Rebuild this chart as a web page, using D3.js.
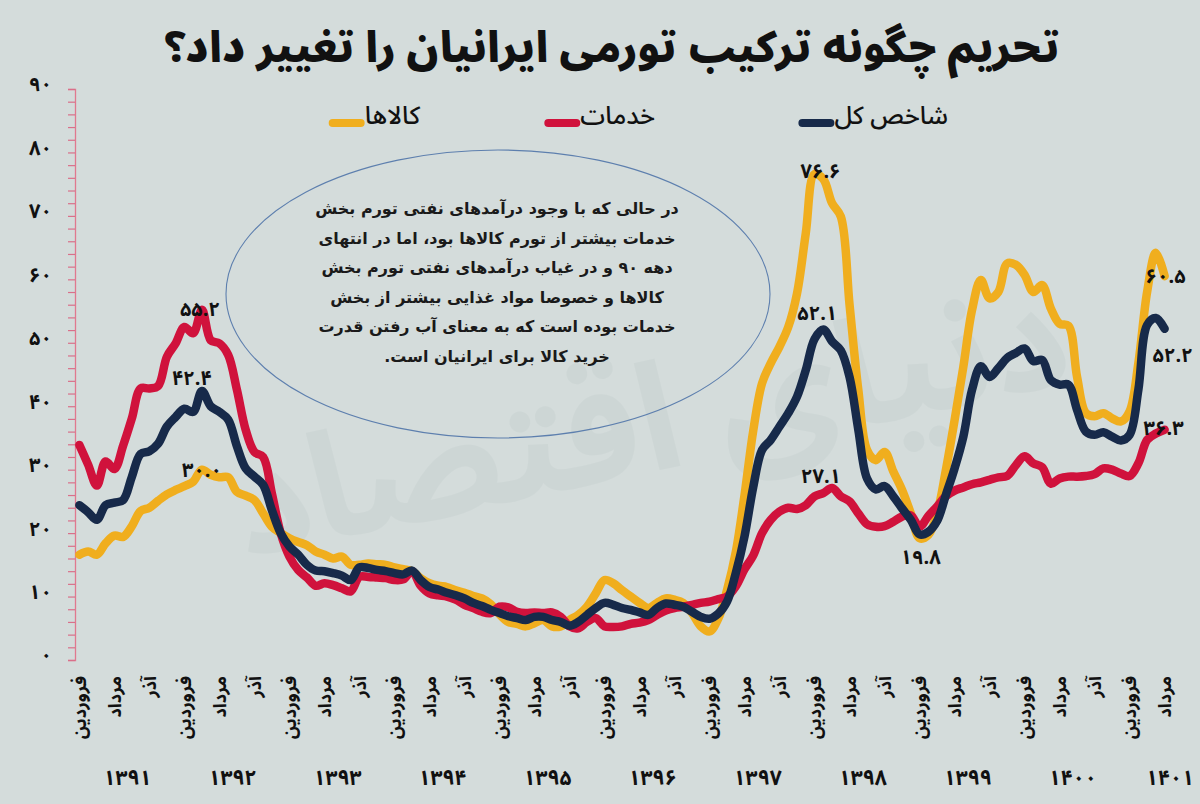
<!DOCTYPE html>
<html lang="fa">
<head>
<meta charset="utf-8">
<script src="https://cdn.jsdelivr.net/npm/d3@7"></script>
<style>
  html, body { margin: 0; padding: 0; background: #d4dcdb; }
  svg { display: block; }
  text { font-family: "Noto Sans Arabic", "Vazirmatn", "DejaVu Sans", sans-serif; }
  text.note { font-family: "DejaVu Sans", sans-serif; }
</style>
</head>
<body>
<svg id="chart" width="1200" height="804"></svg>
<script>
// ---------------- DATA ----------------
const title = "تحریم چگونه ترکیب تورمی ایرانیان را تغییر داد؟";
const seriesNames = ["کالاها", "خدمات", "شاخص کل"];
const years = [1391, 1392, 1393, 1394, 1395, 1396, 1397, 1398, 1399, 1400, 1401];
const monthLabels = ["فروردین", "مرداد", "آذر"];   // shown every 4 months
const yTicks = [0, 10, 20, 30, 40, 50, 60, 70, 80, 90];

// monthly point-to-point inflation, Farvardin 1391 .. Mordad 1401 (125 months)
const goods = [
  16.6,17.1,16.6,18.4,19.6,19.4,21.1,23.5,24.0,25.1,26.1,26.8,
  27.4,28.1,30.0,29.2,28.8,28.8,26.5,25.9,25.2,23.1,21.0,20.0,
  19.2,18.6,18.1,17.1,16.6,16.0,16.3,15.0,15.0,15.2,15.1,15.0,
  14.6,14.3,14.0,12.9,12.1,11.7,11.5,11.0,10.6,10.1,9.7,8.8,
  7.2,6.0,5.7,5.3,5.8,6.3,5.3,5.3,6.3,7.1,8.4,10.5,
  12.6,12.1,11.0,10.0,9.0,8.2,9.0,9.7,9.5,9.0,7.4,5.3,
  4.5,6.5,11.0,17.0,26.0,36.2,43.6,46.8,49.4,52.5,57.8,67.3,
  76.6,75.8,72.0,69.9,56.0,42.6,33.1,31.5,32.8,29.7,26.8,23.1,
  19.2,19.7,23.1,29.9,37.8,46.2,55.2,59.9,57.0,58.0,62.5,62.3,
  60.7,58.0,59.1,55.4,53.0,52.7,44.6,38.9,38.4,38.9,38.1,37.6,
  39.2,46.8,58.0,64.2,60.5
];
const services = [
  33.9,30.8,27.5,31.3,30.1,33.8,38.1,42.8,42.8,43.2,47.8,49.9,
  52.5,51.5,55.2,50.4,49.9,48.1,42.6,36.3,32.8,32.0,26.2,20.0,
  16.3,14.2,13.0,11.7,12.1,11.8,11.3,10.8,13.1,13.1,13.0,12.9,
  12.6,12.7,14.0,11.7,10.5,10.2,10.0,9.5,8.7,8.2,7.6,7.4,
  8.4,8.3,7.6,7.4,7.5,7.4,7.5,6.8,5.3,5.0,6.0,6.6,
  5.3,5.2,5.3,5.7,5.9,6.3,7.1,7.8,8.2,8.4,8.7,9.0,
  9.2,9.6,10.0,11.6,14.3,16.5,20.0,22.1,23.4,24.0,23.8,24.4,
  25.8,26.3,27.1,25.8,25.0,23.1,21.4,21.0,21.1,21.8,22.6,22.8,
  21.0,22.7,24.2,25.8,26.7,27.2,27.7,28.0,28.4,28.8,29.0,30.7,
  32.1,31.0,30.4,27.8,28.6,28.9,28.9,29.0,29.3,30.2,30.0,29.4,
  29.0,31.0,34.7,35.7,36.3
];
const total = [
  24.4,23.3,22.1,24.4,24.8,25.2,28.9,32.5,32.9,34.1,36.8,38.3,
  39.6,39.1,42.4,40.0,39.1,37.9,33.7,30.2,28.9,27.6,23.6,20.0,
  17.9,16.6,15.0,14.1,14.0,13.7,13.3,12.6,14.6,14.5,14.2,14.0,
  13.7,13.5,14.1,12.6,11.5,11.1,10.6,10.2,9.7,9.0,8.5,7.9,
  7.4,6.9,6.6,6.3,6.8,6.8,6.3,6.0,5.4,6.0,7.1,8.2,
  9.0,8.7,8.2,7.9,7.5,7.1,8.2,8.9,8.7,8.4,7.6,6.8,
  6.5,7.3,9.2,13.7,19.5,27.3,33.1,34.7,36.8,38.9,41.5,45.7,
  50.6,52.1,50.2,48.8,44.6,36.3,28.6,26.9,27.4,25.8,23.9,22.1,
  19.8,20.2,21.9,26.0,30.2,35.2,42.6,46.3,44.6,46.0,47.6,48.4,
  49.1,47.1,47.3,44.1,43.4,43.4,39.4,36.0,35.5,35.9,35.2,34.6,
  35.5,42.6,52.8,53.9,52.2
];
// which points carry a value label: [series index, month index]
const labelledPoints = [[1,14],[2,14],[0,14],[0,84],[2,85],[1,86],[2,96],[0,124],[2,124],[1,124]];

const noteLines = [
  "در حالی که با وجود درآمدهای نفتی تورم بخش",
  "خدمات بیشتر از تورم کالاها بود، اما در انتهای",
  "دهه ۹۰ و در غیاب درآمدهای نفتی تورم بخش",
  "کالاها و خصوصا مواد غذایی بیشتر از بخش",
  "خدمات بوده است که به معنای آب رفتن قدرت",
  "خرید کالا برای ایرانیان است."
];

// ---------------- STYLE / LAYOUT ----------------
const colors = ["#f0ae1e", "#d0123c", "#172a4a"];
const drawOrder = [0, 1, 2];
const labelOffsets = [[-2,1],[-10,-11],[0,2],[6,-1],[-6,-15],[-11,-11],[1,24],[1,1],[8,28],[-1,0]];
const fa = s => String(s).replace(/\d/g, d => "۰۱۲۳۴۵۶۷۸۹"[d]);

const svg = d3.select("#chart");
const W = 1200, H = 804;
const plot = { left: 75, right: 1169, top: 89, bottom: 660 };
const seriesData = [goods, services, total];
const n = goods.length;

svg.append("rect").attr("width", W).attr("height", H).attr("fill", "#d4dcdb");

// faint watermark
svg.append("text")
  .attr("x", 660).attr("y", 470)
  .attr("text-anchor", "middle")
  .attr("transform", "rotate(-12,660,470)")
  .attr("font-size", 150).attr("font-weight", 700)
  .attr("fill", "#c8d2d1").attr("opacity", 0.5)
  .style("direction", "rtl")
  .text("دنیای اقتصاد");

const x = d3.scaleBand().domain(d3.range(n)).range([plot.left, plot.right]);
const bw = x.bandwidth();
const xc = i => plot.left + (i + 0.5) * bw;
const y = d3.scaleLinear().domain([0, 90]).range([plot.bottom, plot.top]);

// title
svg.append("text")
  .attr("x", 612).attr("y", 62)
  .attr("text-anchor", "middle")
  .attr("font-size", 42).attr("font-weight", 900).attr("fill", "#111")
  .style("direction", "rtl")
  .text(title);

// y axis
const yAxis = d3.axisLeft(y)
  .tickValues(d3.range(0, 91, 2))
  .tickSize(7)
  .tickFormat("");
const ga = svg.append("g").attr("transform", `translate(${plot.left},0)`).call(yAxis);
ga.select(".domain").attr("stroke", "#e0798f").attr("stroke-width", 1.3);
ga.selectAll(".tick line").attr("stroke", "#d9708a").attr("stroke-width", 1.2);

svg.append("g").selectAll("text").data(yTicks).join("text")
  .attr("x", 52).attr("y", d => y(d) - 3)
  .attr("text-anchor", "end").attr("dominant-baseline", "middle")
  .attr("font-size", 20).attr("font-weight", 700).attr("fill", "#111")
  .text(d => fa(d));

// x labels (every 4 months)
const xLabelIdx = d3.range(0, n, 4);
svg.append("g").selectAll("text").data(xLabelIdx).join("text")
  .attr("transform", i => `translate(${xc(i)},676) rotate(-90)`)
  .attr("text-anchor", "end").attr("dy", "0.35em")
  .attr("font-size", 18).attr("font-weight", 700).attr("fill", "#111")
  .style("direction", "ltr")
  .text(i => monthLabels[(i % 12) / 4]);

// year labels (centred on each year's 12 months, kept inside the frame)
svg.append("g").selectAll("text").data(years).join("text")
  .attr("x", (d, k) => Math.min(plot.left + (12 * k + 6) * bw, W - 30))
  .attr("y", 779)
  .attr("text-anchor", "middle").attr("dominant-baseline", "middle")
  .attr("font-size", 21).attr("font-weight", 700).attr("fill", "#111")
  .text(d => fa(d));

// annotation ellipse
svg.append("ellipse")
  .attr("cx", 498).attr("cy", 294).attr("rx", 272).attr("ry", 144)
  .attr("fill", "none").attr("stroke", "#5d7fae").attr("stroke-width", 1.1);

svg.append("g").selectAll("text").data(noteLines).join("text")
  .attr("class", "note")
  .attr("x", 497).attr("y", (d, k) => 214 + k * 29.6)
  .attr("text-anchor", "middle")
  .attr("font-size", 16).attr("font-weight", 700).attr("fill", "#1a1a1a")
  .style("direction", "rtl")
  .text(d => d);

// lines
const line = d3.line()
  .x((d, i) => xc(i))
  .y(d => y(d))
  .curve(d3.curveCatmullRom.alpha(0.5));

svg.append("g").selectAll("path").data(drawOrder).join("path")
  .attr("d", s => line(seriesData[s]))
  .attr("fill", "none")
  .attr("stroke", s => colors[s])
  .attr("stroke-width", 8.5)
  .attr("stroke-linejoin", "round")
  .attr("stroke-linecap", "round");

// value labels
svg.append("g").selectAll("text").data(labelledPoints).join("text")
  .attr("x", (d, k) => xc(d[1]) + labelOffsets[k][0])
  .attr("y", (d, k) => y(seriesData[d[0]][d[1]]) + labelOffsets[k][1])
  .attr("text-anchor", "middle").attr("dominant-baseline", "middle")
  .attr("font-size", 20).attr("font-weight", 700).attr("fill", "#111")
  .text(d => fa(seriesData[d[0]][d[1]].toFixed(1)));

// legend
const legendItems = [
  { s: 2, right: 948 },
  { s: 1, right: 655 },
  { s: 0, right: 420 }
];
const lg = svg.append("g");
legendItems.forEach(it => {
  const t = lg.append("text")
    .attr("x", it.right).attr("y", 117)
    .attr("text-anchor", "end").attr("dominant-baseline", "middle")
    .attr("font-size", 25).attr("font-weight", 500).attr("fill", "#111")
    .style("direction", "ltr")
    .text(seriesNames[it.s]);
  const w = t.node().getComputedTextLength();
  lg.append("line")
    .attr("x1", it.right - w - 32).attr("x2", it.right - w - 4)
    .attr("y1", 123).attr("y2", 123)
    .attr("stroke", colors[it.s]).attr("stroke-width", 8)
    .attr("stroke-linecap", "round");
});
</script>
</body>
</html>
